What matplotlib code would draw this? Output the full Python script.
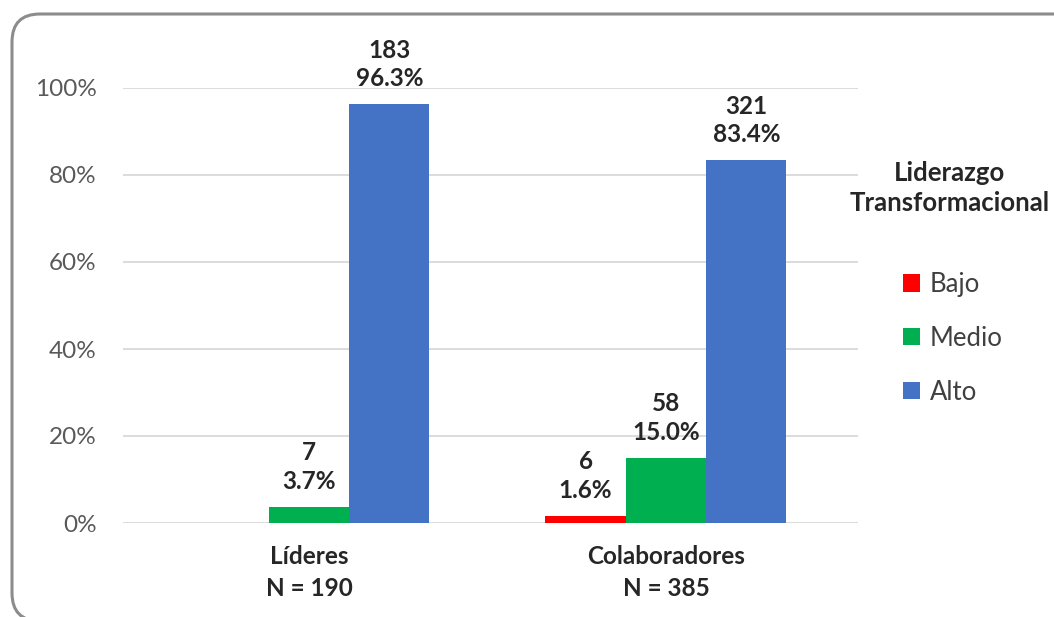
import matplotlib.pyplot as plt
from matplotlib.patches import FancyBboxPatch, Patch
from matplotlib.transforms import IdentityTransform
from matplotlib.ticker import PercentFormatter
import numpy as np

plt.rcParams['font.family'] = ['Lato', 'DejaVu Sans']

grupos = ['Líderes\nN = 190', 'Colaboradores\nN = 385']
niveles = ['Bajo', 'Medio', 'Alto']
colores = ['#FF0000', '#00B050', '#4472C4']
# frecuencias y porcentajes por nivel (Líderes, Colaboradores)
conteos = {'Bajo': [0, 6], 'Medio': [7, 58], 'Alto': [183, 321]}
porcentajes = {'Bajo': [0.0, 1.6], 'Medio': [3.7, 15.0], 'Alto': [96.3, 83.4]}

fig = plt.figure(figsize=(10.54, 6.17), dpi=100)
ax = fig.add_axes([123 / 1054, 94 / 617, 735 / 1054, 435 / 617])

x = np.arange(len(grupos))
ancho = 0.225
for i, nivel in enumerate(niveles):
    pos = x + (i - 1) * ancho
    ax.bar(pos, porcentajes[nivel], ancho, color=colores[i], zorder=3)
    for xi, n, p in zip(pos, conteos[nivel], porcentajes[nivel]):
        if n == 0:
            continue
        ax.annotate(f'{n}\n{p:.1f}%', (xi, p), xytext=(0, 10),
                    textcoords='offset points', ha='center', va='bottom',
                    fontsize=17.5, fontweight='bold', color='#262626',
                    linespacing=1.3)

ax.set_xlim(-0.521, 1.538)
ax.set_ylim(0, 100)
ax.set_yticks(np.arange(0, 101, 20))
ax.yaxis.set_major_formatter(PercentFormatter(decimals=0))
ax.set_xticks(x)
ax.set_xticklabels(grupos, fontsize=17.5, fontweight='bold', color='#262626',
                   linespacing=1.45)
ax.tick_params(axis='y', length=0, pad=19, labelsize=17.5, labelcolor='#595959')
ax.tick_params(axis='x', length=0, pad=16)
ax.grid(axis='y', color='#D9D9D9', lw=1.3, zorder=0)
for s in ax.spines.values():
    s.set_visible(False)

fig.text(950 / 1054, 1 - 188 / 617, 'Liderazgo\nTransformacional',
         ha='center', va='center', fontsize=18.5, fontweight='bold',
         color='#262626', linespacing=1.3)

handles = [Patch(facecolor=c, edgecolor='none') for c in colores]
fig.legend(handles, niveles, loc='upper left',
           bbox_to_anchor=(903 / 1054, 1 - 272 / 617), frameon=False,
           fontsize=18.5, labelcolor='#404040', handlelength=0.65,
           handleheight=0.65, handletextpad=0.4, labelspacing=1.12,
           borderpad=0, borderaxespad=0)

# marco redondeado del gráfico
marco = FancyBboxPatch((12, -4), 1070, 607, boxstyle='round,pad=0,rounding_size=28',
                       transform=IdentityTransform(), facecolor='none',
                       edgecolor='#8C8C8C', lw=2.2)
fig.patches.append(marco)

fig.savefig('out.png', dpi=100)
